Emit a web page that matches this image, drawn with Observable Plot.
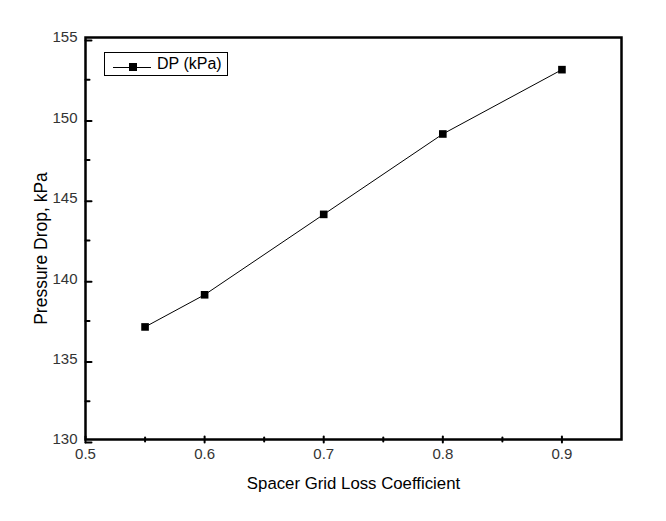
<!DOCTYPE html>
<html>
<head>
<meta charset="utf-8">
<script src="https://cdn.jsdelivr.net/npm/d3@7"></script>
<script src="https://cdn.jsdelivr.net/npm/@observablehq/plot@0.6"></script>
<style>
  html, body { margin: 0; padding: 0; background: #fff; }
  #wrap { position: relative; width: 666px; height: 521px; font-family: "Liberation Sans", Arial, sans-serif; }
  #legend { position: absolute; left: 104px; top: 52px; width: 124px; height: 24px; border: 1px solid #000; box-sizing: border-box; background: #fff; }
  #legend .ln { position: absolute; left: 8px; top: 14px; width: 38px; height: 1px; background: #000; }
  #legend .mk { position: absolute; left: 24px; top: 10px; width: 8px; height: 8px; background: #000; }
  #legend .tx { position: absolute; left: 52px; top: 2px; font-size: 16px; color: #000; }
</style>
</head>
<body>
<div id="wrap">
  <div id="chart"></div>
  <div id="legend"><div class="ln"></div><div class="mk"></div><div class="tx">DP (kPa)</div></div>
</div>
<script>
const coefficients = [0.55, 0.6, 0.7, 0.8, 0.9];
const pressureDrop = [137, 139, 144, 149, 153];
const xTicks = [0.5, 0.6, 0.7, 0.8, 0.9];
const xMinorTicks = [0.55, 0.65, 0.75, 0.85];
const yTicks = [130, 135, 140, 145, 150, 155];
const yMinorTicks = [132.5, 137.5, 142.5, 147.5, 152.5];
const xLabel = "Spacer Grid Loss Coefficient";
const yLabel = "Pressure Drop, kPa";

const data = coefficients.map((c, i) => ({x: c, y: pressureDrop[i]}));

const tickShapeV = {draw(ctx, l) { ctx.moveTo(0, 0); ctx.lineTo(0, -l); }};
const tickShapeH = {draw(ctx, l) { ctx.moveTo(0, 0); ctx.lineTo(l, 0); }};

const chart = Plot.plot({
  width: 666,
  height: 521,
  marginLeft: 85,
  marginRight: 45,
  marginTop: 37,
  marginBottom: 82,
  style: {fontFamily: "Liberation Sans, Arial, sans-serif", background: "#fff"},
  x: {domain: [0.5, 0.95]},
  y: {domain: [130, 155]},
  marks: [
    Plot.axisX(xTicks, {tickSize: 0, tickPadding: 9, fontSize: 15, fill: "#333", tickFormat: d => d.toFixed(1), label: null}),
    Plot.axisY(yTicks, {tickSize: 0, tickPadding: 8, fontSize: 15, fill: "#333", label: null}),
    Plot.vector(xTicks, {x: d => d, frameAnchor: "bottom", length: 6, shape: tickShapeV, strokeWidth: 2, stroke: "#000"}),
    Plot.vector(xMinorTicks, {x: d => d, frameAnchor: "bottom", length: 4, shape: tickShapeV, strokeWidth: 2, stroke: "#000"}),
    Plot.vector(yTicks, {y: d => d, frameAnchor: "left", length: 6, shape: tickShapeH, strokeWidth: 2, stroke: "#000"}),
    Plot.vector(yMinorTicks, {y: d => d, frameAnchor: "left", length: 4, shape: tickShapeH, strokeWidth: 2, stroke: "#000"}),
    Plot.frame({stroke: "#000", strokeWidth: 2.5}),
    Plot.line(data, {x: "x", y: "y", stroke: "#000", strokeWidth: 1}),
    Plot.dot(data, {x: "x", y: "y", symbol: "square", r: 4.3, fill: "#000", stroke: "none"}),
    Plot.text([xLabel], {frameAnchor: "bottom", dy: 44, fontSize: 16.8, fill: "#000", lineAnchor: "middle"}),
    Plot.text([yLabel], {frameAnchor: "left", dx: -44, dy: 10, rotate: -90, textAnchor: "middle", lineAnchor: "middle", fontSize: 17.5, fill: "#000"})
  ]
});
document.getElementById("chart").appendChild(chart);
</script>
</body>
</html>
